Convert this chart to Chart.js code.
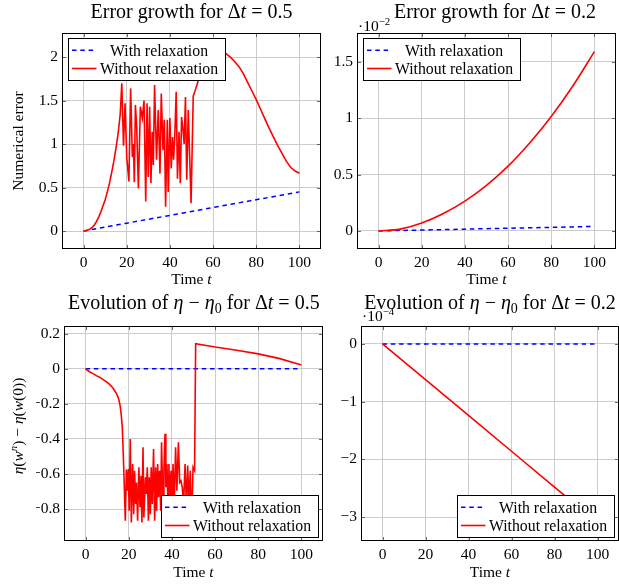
<!DOCTYPE html>
<html>
<head>
<meta charset="utf-8">
<script src="https://cdn.jsdelivr.net/npm/chart.js@4.4.0/dist/chart.umd.min.js"></script>
<style>
  html, body { margin: 0; padding: 0; background: #fff; }
  body { width: 619px; height: 585px; position: relative; overflow: hidden; }
  canvas { position: absolute; }
</style>
</head>
<body>
<canvas id="errDt05"></canvas>
<canvas id="errDt02"></canvas>
<canvas id="etaDt05"></canvas>
<canvas id="etaDt02"></canvas>
<script>
// ---- data ----
const xTicks = [0, 20, 40, 60, 80, 100];

// error growth, dt = 0.5
const errTicks05 = [0, 0.5, 1, 1.5, 2];
const tErrWith05 = [0, 20, 40, 60, 80, 100];
const errWith05 = [0, 0.09, 0.18, 0.27, 0.36, 0.45];
const tErrWithout05 = [0, 1, 2, 3, 4, 5, 6, 7, 8, 9, 10, 11, 12, 13, 14, 15, 16, 17, 17.7,
  18.5, 19.2, 20.0, 21.0, 21.8, 22.6, 23.1, 23.5, 24.0, 24.6, 25.4, 26.3, 27.2, 28.0, 28.8,
  29.4, 30.0, 30.6, 31.2, 31.8, 32.3, 32.9, 33.8, 34.6, 35.4, 36.0, 36.8, 37.4, 38.0, 38.8,
  39.2, 40.0, 40.6, 41.2, 41.7, 42.3, 42.9, 43.5, 44.2, 44.8, 45.4, 46.0, 46.6, 47.2, 47.8,
  48.5, 49.8, 50.8,
  51.5, 52.5, 54, 55.5, 57, 58.5, 60, 62, 64, 66, 68, 70, 72, 74, 76, 78, 80, 82, 84, 86, 88,
  90, 92, 94, 96, 98, 100];
const errWithout05 = [0, 0.002, 0.01, 0.022, 0.04, 0.07, 0.11, 0.16, 0.22, 0.29, 0.36, 0.45, 0.55,
  0.67, 0.80, 0.95, 1.12, 1.35, 1.70,
  0.98, 1.47, 0.85, 0.57, 1.64, 0.85, 1.00, 0.56, 1.45, 1.20, 0.49, 1.43, 1.30, 1.50, 0.34,
  1.47, 0.62, 1.43, 0.55, 1.14, 0.76, 1.68, 0.82, 1.39, 0.66, 1.58, 0.93, 1.28, 0.28, 1.28,
  0.45, 1.30, 0.72, 1.08, 0.82, 1.12, 1.60, 0.60, 1.14, 0.55, 1.31, 1.18, 1.00, 1.54, 0.59,
  1.39, 0.32, 1.55,
  1.60, 1.68, 1.80, 1.90, 1.97, 2.02, 2.05, 2.07, 2.07, 2.04, 2.00, 1.95, 1.89, 1.81, 1.71,
  1.61, 1.51, 1.40, 1.29, 1.18, 1.08, 0.98, 0.89, 0.80, 0.73, 0.69, 0.665];

// error growth, dt = 0.2 (values in units of 1e-2)
const errTicks02 = [0, 0.5, 1, 1.5];
const tErr02 = [0, 10, 20, 30, 40, 50, 60, 70, 80, 90, 100];
const errWith02 = [0, 0.004, 0.008, 0.012, 0.016, 0.02, 0.024, 0.028, 0.032, 0.036, 0.04];
const errWithout02 = [0, 0.016, 0.07, 0.155, 0.265, 0.405, 0.575, 0.78, 1.015, 1.285, 1.59];

// eta - eta0, dt = 0.5
const etaTicks05 = [-0.8, -0.6, -0.4, -0.2, 0, 0.2];
const tEtaWith05 = [0, 100];
const etaWith05 = [0, 0];
const tEtaWithout05 = [0, 1, 2, 3, 4, 5, 6, 7, 8, 9, 10, 11, 12, 13, 14, 15, 15.5, 16, 16.5, 17, 17.5, 18,
  18.4, 18.9, 19.3, 19.8, 20.2, 20.7, 21.2, 21.8, 22.3, 22.7, 23.2, 23.6, 24.1, 24.7, 25.2,
  25.7, 26.1, 26.6, 27.0, 27.7, 28.1, 28.6, 29.1, 29.5, 30.0, 30.4, 30.9, 31.5, 32.0, 32.5,
  32.9, 33.4, 33.8, 34.3, 34.8, 35.2, 35.9, 36.3, 36.8, 37.2, 37.7, 38.2, 38.6, 39.1, 39.6,
  40.0, 40.5, 41.1, 41.7, 42.3, 43.0, 43.6, 44.2, 44.8, 45.4, 46.1, 46.7, 47.3, 47.9, 48.5,
  49.1, 49.8, 50.5,
  51.0, 60, 70, 80, 90, 100];
const etaWithout05 = [0, -0.01, -0.018, -0.025, -0.032, -0.039, -0.045, -0.052, -0.06, -0.069, -0.078,
  -0.088, -0.10, -0.115, -0.135, -0.16, -0.18, -0.21, -0.26, -0.33, -0.50, -0.70,
  -0.867, -0.575, -0.695, -0.571, -0.81, -0.40, -0.876, -0.543, -0.829, -0.581, -0.771, -0.648, -0.867, -0.562, -0.79,
  -0.61, -0.876, -0.448, -0.848, -0.619, -0.714, -0.562, -0.867, -0.619, -0.829, -0.562, -0.771, -0.457, -0.867, -0.562,
  -0.81, -0.543, -0.733, -0.581, -0.81, -0.419, -0.81, -0.581, -0.371, -0.676, -0.543, -0.79, -0.543, -0.752, -0.581,
  -0.848, -0.543, -0.771, -0.448, -0.695, -0.419, -0.648, -0.638, -0.676, -0.77, -0.543, -0.79, -0.552, -0.771, -0.581,
  -0.886, -0.562, -0.58,
  0.143, 0.124, 0.106, 0.085, 0.058, 0.022];

// eta - eta0, dt = 0.2 (values in units of 1e-4)
const etaTicks02 = [-3, -2, -1, 0];
const tEta02 = [0, 20, 40, 60, 80, 100];
const etaWith02 = [0, 0, 0, 0, 0, 0];
const etaWithout02 = [0, -0.62, -1.24, -1.86, -2.48, -3.10];

// ---- drawing helpers ----
const FONT = '"Liberation Serif", "Times New Roman", serif';
const AXIS_W = 28, AXIS_H = 25;
const TITLE_SIZE = 20, LABEL_SIZE = 15.5, LEGEND_SIZE = 15.8;

function pts(xs, ys) {
  return xs.map((x, i) => ({ x: x, y: ys[i] }));
}

function fmt(v) {
  return String(v).replace('-', '\u2212');
}

function fontFor(st, size) {
  const small = st.indexOf('sub') >= 0 || st.indexOf('sup') >= 0;
  const it = st.charAt(0) === 'i' ? 'italic ' : '';
  return it + (small ? size * 0.7 : size) + 'px ' + FONT;
}

function richWidth(ctx, parts, size) {
  let w = 0;
  for (const [txt, st] of parts) {
    ctx.font = fontFor(st, size);
    w += ctx.measureText(txt).width;
  }
  return w;
}

function drawRich(ctx, parts, x, y, size, align) {
  const w = richWidth(ctx, parts, size);
  let cx = align === 'center' ? x - w / 2 : (align === 'right' ? x - w : x);
  ctx.textAlign = 'left';
  ctx.textBaseline = 'alphabetic';
  for (const [txt, st] of parts) {
    ctx.font = fontFor(st, size);
    let dy = 0;
    if (st.indexOf('sub') >= 0) dy = size * 0.22;
    if (st.indexOf('sup') >= 0) dy = -size * 0.38;
    ctx.fillText(txt, cx, y + dy);
    cx += ctx.measureText(txt).width;
  }
}

function decor(p) {
  return {
    id: 'decor',
    afterDraw(chart) {
      const ctx = chart.ctx, a = chart.chartArea;
      const xs = chart.scales.x, ys = chart.scales.y;
      const ox = p.cv[0], oy = p.cv[1];
      ctx.save();
      // little tick marks inside the box, on all four sides
      ctx.strokeStyle = '#444';
      ctx.lineWidth = 0.8;
      ctx.beginPath();
      xTicks.forEach(v => {
        const px = Math.round(xs.getPixelForValue(v)) + 0.5;
        ctx.moveTo(px, a.bottom); ctx.lineTo(px, a.bottom - 4);
        ctx.moveTo(px, a.top); ctx.lineTo(px, a.top + 4);
      });
      p.yTicks.forEach(v => {
        const py = Math.round(ys.getPixelForValue(v)) + 0.5;
        ctx.moveTo(a.left, py); ctx.lineTo(a.left + 4, py);
        ctx.moveTo(a.right, py); ctx.lineTo(a.right - 4, py);
      });
      ctx.stroke();
      // box
      ctx.strokeStyle = '#000';
      ctx.lineWidth = 1;
      ctx.strokeRect(Math.round(a.left) + 0.5, Math.round(a.top) + 0.5,
        Math.round(a.right - a.left) - 1, Math.round(a.bottom - a.top) - 1);

      // legend
      const lw = 157, lh = 42;
      let bx, by;
      if (p.legend === 'nw') { bx = a.left + 5.5; by = a.top + 5.3; }
      else { bx = a.right - 5 - lw; by = a.bottom - 4 - lh; }
      bx = Math.round(bx) + 0.5; by = Math.round(by) + 0.5;
      ctx.fillStyle = '#fff';
      ctx.fillRect(bx, by, lw, lh);
      ctx.strokeStyle = '#000';
      ctx.lineWidth = 1;
      ctx.strokeRect(bx, by, lw, lh);
      chart.data.datasets.forEach((ds, i) => {
        const ry = by + 11.7 + 18.3 * i;
        ctx.save();
        ctx.strokeStyle = ds.borderColor;
        ctx.lineWidth = ds.borderWidth;
        ctx.setLineDash(ds.borderDash || []);
        ctx.beginPath();
        ctx.moveTo(bx + 3.5, ry);
        ctx.lineTo(bx + 28, ry);
        ctx.stroke();
        ctx.restore();
        ctx.fillStyle = '#000';
        ctx.font = LEGEND_SIZE + 'px ' + FONT;
        ctx.textAlign = 'center';
        ctx.textBaseline = 'alphabetic';
        ctx.fillText(ds.label, bx + 90.5, ry + 5.3);
      });

      // title, axis labels, multiplier
      ctx.fillStyle = '#000';
      drawRich(ctx, p.title, p.titleAt[0] - ox, p.titleAt[1] - oy, TITLE_SIZE, 'center');
      drawRich(ctx, [['Time ', ''], ['t', 'i']], (a.left + a.right) / 2, p.xlabelY - oy, LABEL_SIZE, 'center');
      if (p.ylabel) {
        ctx.save();
        ctx.translate(p.ylabelAt[0] - ox, p.ylabelAt[1] - oy);
        ctx.rotate(-Math.PI / 2);
        drawRich(ctx, p.ylabel, 0, 0, LABEL_SIZE, 'center');
        ctx.restore();
      }
      if (p.mult) {
        drawRich(ctx, [['\u00b710', ''], [p.mult, 'sup']], p.multAt[0] - ox, p.multAt[1] - oy, LABEL_SIZE, 'left');
      }
      ctx.restore();
    }
  };
}

function makeChart(id, p) {
  const cv = document.getElementById(id);
  cv.width = p.cv[2];
  cv.height = p.cv[3];
  cv.style.left = p.cv[0] + 'px';
  cv.style.top = p.cv[1] + 'px';
  const pad = {
    left: p.area[0] - p.cv[0] - AXIS_W,
    top: p.area[1] - p.cv[1],
    right: p.cv[0] + p.cv[2] - p.area[2],
    bottom: p.cv[1] + p.cv[3] - p.area[3] - AXIS_H
  };
  const tickFont = { family: FONT, size: LABEL_SIZE };
  const curve = p.smooth ? 'monotone' : 'default';
  return new Chart(cv.getContext('2d'), {
    type: 'line',
    data: {
      datasets: [
        { label: 'With relaxation', data: p.blue, borderColor: '#0000ff', borderWidth: 1.5,
          borderDash: [4.5, 3.8], pointRadius: 0, fill: false, tension: 0, order: 2 },
        { label: 'Without relaxation', data: p.red, borderColor: '#ff0000', borderWidth: 1.6,
          pointRadius: 0, fill: false, tension: 0, cubicInterpolationMode: curve, order: 1 }
      ]
    },
    options: {
      responsive: false,
      animation: false,
      layout: { padding: pad },
      plugins: { legend: { display: false }, tooltip: { enabled: false }, title: { display: false } },
      scales: {
        x: {
          type: 'linear', min: -10, max: 110,
          afterBuildTicks: s => { s.ticks = xTicks.map(v => ({ value: v })); },
          afterFit: s => { s.height = AXIS_H; },
          grid: { color: '#cccccc', lineWidth: 1, drawTicks: false },
          border: { display: false },
          ticks: { font: tickFont, color: '#000', padding: 5, autoSkip: false, maxRotation: 0, callback: v => fmt(v) }
        },
        y: {
          type: 'linear', min: p.yRange[0], max: p.yRange[1],
          afterBuildTicks: s => { s.ticks = p.yTicks.map(v => ({ value: v })); },
          afterFit: s => { s.width = AXIS_W; },
          grid: { color: '#cccccc', lineWidth: 1, drawTicks: false },
          border: { display: false },
          ticks: { font: tickFont, color: '#000', padding: 4, autoSkip: false, callback: v => fmt(v) }
        }
      }
    },
    plugins: [decor(p)]
  });
}

makeChart('errDt05', {
  cv: [0, 0, 326, 292], area: [62, 33, 321, 249],
  yTicks: errTicks05, yRange: [-0.207, 2.277],
  blue: pts(tErrWith05, errWith05), red: pts(tErrWithout05, errWithout05),
  legend: 'nw',
  title: [['Error growth for \u0394', ''], ['t', 'i'], [' = 0.5', '']], titleAt: [191.5, 17.5],
  xlabelY: 284,
  ylabel: [['Numerical error', '']], ylabelAt: [23, 141]
});

makeChart('errDt02', {
  cv: [326, 0, 293, 292], area: [357, 33, 616, 249],
  yTicks: errTicks02, yRange: [-0.16, 1.755],
  blue: pts(tErr02, errWith02), red: pts(tErr02, errWithout02), smooth: true,
  legend: 'nw',
  title: [['Error growth for \u0394', ''], ['t', 'i'], [' = 0.2', '']], titleAt: [495, 17.5],
  xlabelY: 284,
  mult: '\u22122', multAt: [358, 31]
});

makeChart('etaDt05', {
  cv: [0, 292, 330, 293], area: [64, 326, 323, 541],
  yTicks: etaTicks05, yRange: [-0.982, 0.244],
  blue: pts(tEtaWith05, etaWith05), red: pts(tEtaWithout05, etaWithout05),
  legend: 'se',
  title: [['Evolution of ', ''], ['\u03b7', 'i'], [' \u2212 ', ''], ['\u03b7', 'i'], ['0', 'sub'],
          [' for \u0394', ''], ['t', 'i'], [' = 0.5', '']], titleAt: [193.8, 309],
  xlabelY: 577,
  ylabel: [['\u03b7', 'i'], ['(', ''], ['w', 'i'], ['n', 'isup'], [') \u2212 ', ''], ['\u03b7', 'i'],
           ['(', ''], ['w', 'i'], ['(0))', '']], ylabelAt: [22.5, 426]
});

makeChart('etaDt02', {
  cv: [330, 292, 289, 293], area: [361, 326, 619, 541],
  yTicks: etaTicks02, yRange: [-3.415, 0.31],
  blue: pts(tEta02, etaWith02), red: pts(tEta02, etaWithout02),
  legend: 'se',
  title: [['Evolution of ', ''], ['\u03b7', 'i'], [' \u2212 ', ''], ['\u03b7', 'i'], ['0', 'sub'],
          [' for \u0394', ''], ['t', 'i'], [' = 0.2', '']], titleAt: [490, 309],
  xlabelY: 577,
  mult: '\u22124', multAt: [362, 321]
});
</script>
</body>
</html>
